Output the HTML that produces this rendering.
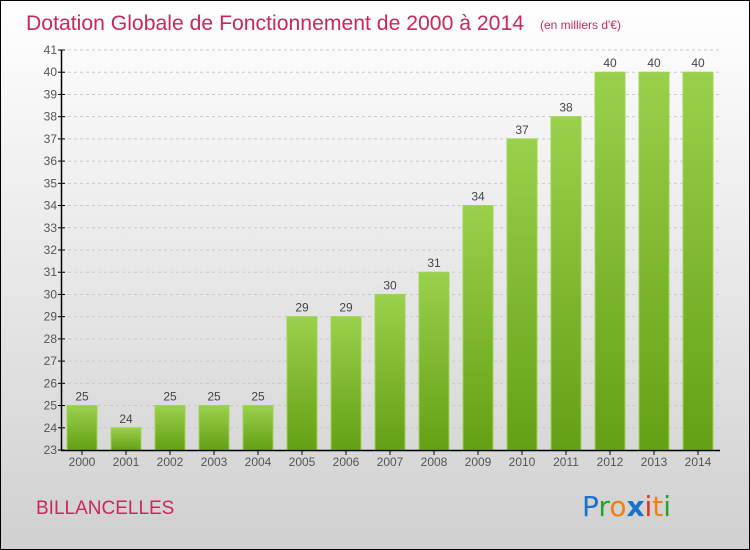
<!DOCTYPE html>
<html><head><meta charset="utf-8"><style>
body{margin:0}
svg{display:block;font-family:"Liberation Sans",sans-serif}
</style></head><body>
<svg width="750" height="550" viewBox="0 0 750 550">
<defs>
<linearGradient id="bg" x1="0" y1="0" x2="0" y2="1"><stop offset="0" stop-color="#ffffff"/><stop offset="1" stop-color="#d0d0d0"/></linearGradient>
<linearGradient id="bar" x1="0" y1="0" x2="0" y2="1"><stop offset="0" stop-color="#9bd04c"/><stop offset="1" stop-color="#64a015"/></linearGradient>
</defs>
<rect x="0.5" y="0.5" width="749" height="549" fill="url(#bg)" stroke="#000"/>
<text x="26" y="30" font-size="21" fill="#c8285a" textLength="498" lengthAdjust="spacingAndGlyphs">Dotation Globale de Fonctionnement de 2000 à 2014</text>
<text x="540" y="29" font-size="12" fill="#c8285a">(en milliers d'€)</text>
<g id="grid"></g>
<g id="bars"></g>
<g id="axes"></g>
<text x="36" y="514" font-size="19" fill="#c8285a">BILLANCELLES</text>
<g font-size="28" font-family="'DejaVu Sans',sans-serif">
<text x="582" y="516"><tspan fill="#1a73c8">P</tspan><tspan fill="#2aa02a">r</tspan><tspan fill="#f08010">o</tspan><tspan fill="#1a73c8" font-weight="bold">x</tspan><tspan fill="#e03020">i</tspan><tspan fill="#f08010">t</tspan><tspan fill="#2aa02a">i</tspan></text>
</g>
</svg>
<script>
const years=["2000","2001","2002","2003","2004","2005","2006","2007","2008","2009","2010","2011","2012","2013","2014"];
const values=[25,24,25,25,25,29,29,30,31,34,37,38,40,40,40];
const yTicks=[23,24,25,26,27,28,29,30,31,32,33,34,35,36,37,38,39,40,41];
const NS="http://www.w3.org/2000/svg";
const yMin=23,yMax=41,yTop=50,yBot=450;
function y(v){return yBot-(v-yMin)/(yMax-yMin)*(yBot-yTop);}
function xc(i){return 82+i*44;}
function mk(t,a,p){const e=document.createElementNS(NS,t);for(const k in a)e.setAttribute(k,a[k]);p.appendChild(e);return e;}
const grid=document.getElementById('grid'),bars=document.getElementById('bars'),axes=document.getElementById('axes');
yTicks.forEach(v=>{
  const l=mk('line',{x1:62,x2:720,y1:y(v),y2:y(v),stroke:'#c8c8c8','stroke-dasharray':'3,3'},grid);
  
  
  const t=mk('line',{x1:58,x2:65,y1:y(v),y2:y(v),stroke:'#000'},axes);
  
  
  const tx=mk('text',{x:57,y:y(v)+4,'text-anchor':'end','font-size':12,fill:'#555'},axes);
  tx.textContent=v;
  
  
});
values.forEach((v,i)=>{
  const r=mk('rect',{x:xc(i)-15,y:y(v),width:30,height:yBot-y(v),fill:'url(#bar)',stroke:'#9fd454','stroke-width':1},bars);
  
  
  const t=mk('text',{x:xc(i),y:y(v)-5,'text-anchor':'middle','font-size':12,fill:'#444'},bars);
  t.textContent=v;
  
  
  const tk=mk('line',{x1:xc(i),x2:xc(i),y1:yBot,y2:yBot+5,stroke:'#000'},axes);
  
  
  const xl=mk('text',{x:xc(i),y:466,'text-anchor':'middle','font-size':12,fill:'#555'},axes);
  xl.textContent=years[i];
  
  
});
const ya=mk('line',{x1:61.5,x2:61.5,y1:yTop,y2:yBot,stroke:'#000','stroke-width':1.5},axes);


const xa=mk('line',{x1:61,x2:720,y1:yBot+0.5,y2:yBot+0.5,stroke:'#000','stroke-width':1.5},axes);


</script>
</body></html>
